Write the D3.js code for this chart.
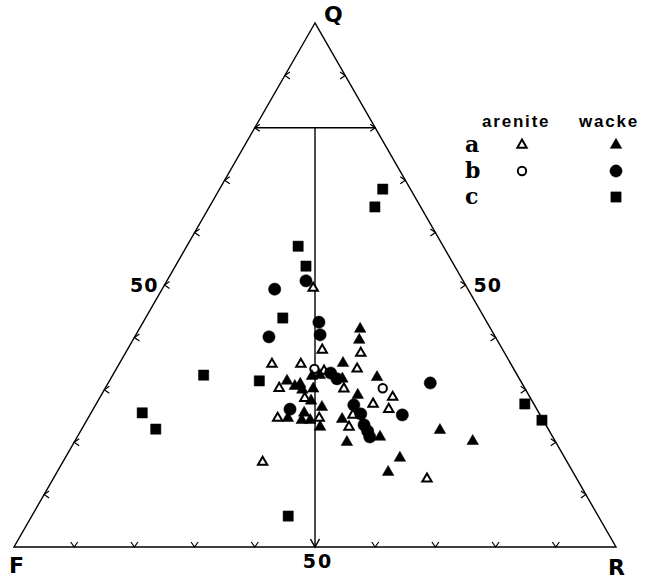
<!DOCTYPE html>
<html>
<head>
<meta charset="utf-8">
<script src="https://cdn.jsdelivr.net/npm/d3@7"></script>
<style>
  body { margin: 0; background: #fff; }
  text { font-family: "DejaVu Sans", sans-serif; font-weight: bold; fill: #000; }
</style>
</head>
<body>
<div id="chart"></div>
<script>
// each point is [Q, F, R] in percent
var areniteA = [[49.4,25.6,25.0],[37.6,30.0,32.4],[37.0,23.9,39.1],[34.9,39.7,25.4],[34.9,34.9,30.2],
  [33.6,31.7,34.7],[34.0,26.0,40.0],[30.3,40.8,28.9],[30.2,30.1,39.7],[28.4,37.5,34.1],
  [28.6,22.8,48.6],[27.3,26.7,46.0],[26.3,24.6,49.1],[24.6,43.9,31.5],[24.6,37.0,38.4],
  [25.2,31.1,43.7],[22.9,32.9,44.2],[16.2,50.6,33.2],[13.0,24.9,62.1]];
var areniteB = [[34.0,33.1,32.9],[30.3,23.6,46.1]];
var wackeA = [[41.6,21.7,36.7],[39.5,22.9,37.6],[35.1,27.8,37.1],[32.1,29.4,38.5],[32.4,23.5,44.1],
  [32.6,34.2,33.2],[32.8,32.8,34.4],[31.7,38.8,29.5],[30.7,38.0,31.3],[31.1,36.9,32.0],
  [30.0,37.1,32.9],[30.2,35.2,34.6],[27.9,36.7,35.4],[29.0,28.4,42.6],[24.6,42.2,33.2],
  [25.6,39.0,35.4],[24.2,40.1,35.7],[24.2,38.7,37.1],[26.7,35.5,37.8],[24.4,33.3,42.3],
  [22.9,37.7,39.4],[21.0,28.7,50.3],[20.0,34.7,45.3],[22.3,18.1,59.6],[20.2,13.7,66.1],
  [17.0,27.4,55.6],[14.3,30.7,55.0]];
var wackeB = [[50.8,26.1,23.1],[49.2,32.1,18.7],[42.9,27.9,29.2],[40.5,28.9,30.6],[40.1,37.6,22.3],
  [33.2,30.8,36.0],[32.1,30.3,37.6],[31.3,15.2,53.5],[26.3,41.0,32.7],[25.2,22.9,51.9],
  [27.1,30.0,42.9],[25.4,29.7,44.9],[23.3,30.2,46.5],[22.1,30.2,47.7],[21.0,30.4,48.6]];
var wackeC = [[68.3,4.6,27.1],[64.9,7.6,27.5],[57.4,24.1,18.5],[53.6,24.7,21.7],[43.7,33.5,22.8],
  [32.8,52.1,15.1],[31.7,43.4,24.9],[25.6,65.9,8.5],[22.5,65.2,12.3],[5.9,51.5,42.6],
  [27.3,1.5,71.2],[24.2,0.2,75.6]];

var ticks = [10, 20, 30, 40, 50, 60, 70, 80, 90];
var quartzLimit = 80;
var rowLabels = ['a', 'b', 'c'];
var colLabels = ['arenite', 'wacke'];

var width = 650, height = 581;

var x = d3.scaleLinear().domain([0, 100]).range([14, 616]);
var y = d3.scaleLinear().domain([0, 100]).range([547, 23]);

// ternary -> screen
function pt(d) { return [x(d[2] + d[0] / 2), y(d[0])]; }

var svg = d3.select('#chart').append('svg')
  .attr('width', width)
  .attr('height', height);

svg.append('rect').attr('width', width).attr('height', height).attr('fill', '#fff');

var line = d3.line();

// frame
svg.append('path')
  .attr('d', line([pt([100,0,0]), pt([0,100,0]), pt([0,0,100])]) + 'Z')
  .attr('fill', 'none').attr('stroke', '#000').attr('stroke-width', 1.4)
  .attr('stroke-linejoin', 'miter');

// Q = 80 line and the F = R divider
svg.append('path')
  .attr('d', line([pt([quartzLimit, 100 - quartzLimit, 0]), pt([quartzLimit, 0, 100 - quartzLimit])]))
  .attr('stroke', '#000').attr('stroke-width', 1.6);
svg.append('path')
  .attr('d', line([pt([quartzLimit, (100 - quartzLimit) / 2, (100 - quartzLimit) / 2]), pt([0, 50, 50])]))
  .attr('stroke', '#000').attr('stroke-width', 1.4);

// arrowhead tick: tip on the edge, arms pointing back inside
function chevron(p, dx, dy, len, half) {
  var bx = p[0] - dx * len, by = p[1] - dy * len;
  var px = -dy * half, py = dx * half;
  return line([[bx + px, by + py], p, [bx - px, by - py]]);
}

var tg = svg.append('g').attr('fill', 'none').attr('stroke', '#000').attr('stroke-width', 1.2);
ticks.forEach(function(v) {
  tg.append('path').attr('d', chevron(pt([v, 100 - v, 0]), -1, 0, 5, 3.5));
  tg.append('path').attr('d', chevron(pt([v, 0, 100 - v]), 1, 0, 5, 3.5));
  if (v === 50) {
    tg.append('path').attr('d', chevron(pt([0, 50, 50]), 0, 1, 8, 4.5)).attr('stroke-width', 1.5);
  } else {
    tg.append('path').attr('d', chevron(pt([0, 100 - v, v]), 0, 1, 5, 3.5));
  }
});

// axis labels
var left50 = pt([50, 50, 0]), right50 = pt([50, 0, 50]), bottom50 = pt([0, 50, 50]);
svg.append('text').attr('x', left50[0] - 6).attr('y', left50[1] + 7)
  .attr('text-anchor', 'end').style('font-size', '19px').style('letter-spacing', '1px').text('50');
svg.append('text').attr('x', right50[0] + 8).attr('y', right50[1] + 7)
  .style('font-size', '19px').style('letter-spacing', '1px').text('50');
svg.append('text').attr('x', bottom50[0] + 3).attr('y', bottom50[1] + 21)
  .attr('text-anchor', 'middle').style('font-size', '19px').style('letter-spacing', '2px').text('50');

svg.append('text').attr('x', 324).attr('y', 22).style('font-size', '22px').text('Q');
svg.append('text').attr('x', 9).attr('y', 573).style('font-size', '22px').text('F');
svg.append('text').attr('x', 608).attr('y', 575).style('font-size', '22px').text('R');

// symbols
var triFilled = d3.symbol().type(d3.symbolTriangle).size(58)();
var triOpen = d3.symbol().type(d3.symbolTriangle).size(38)();
var square = d3.symbol().type(d3.symbolSquare).size(105)();
var dot = d3.symbol().type(d3.symbolCircle).size(118)();
var ring = d3.symbol().type(d3.symbolCircle).size(55)();

function plot(data, path, filled) {
  svg.append('g').selectAll('path').data(data).enter().append('path')
    .attr('d', path)
    .attr('transform', function(d) { var p = pt(d); return 'translate(' + p[0] + ',' + p[1] + ')'; })
    .attr('fill', filled ? '#000' : '#fff')
    .attr('stroke', '#000')
    .attr('stroke-width', filled ? 0.5 : 2);
}

plot(areniteA, triOpen, false);
plot(areniteB, ring, false);
plot(wackeA, triFilled, true);
plot(wackeB, dot, true);
plot(wackeC, square, true);

// legend
var lg = svg.append('g');
var colX = [522, 616], rowY = [145, 171, 197];
var headX = [482, 579];
colLabels.forEach(function(c, i) {
  lg.append('text').attr('x', headX[i]).attr('y', 127)
    .style('font-family', '"Liberation Sans", Arial, sans-serif')
    .style('font-size', '17px').style('letter-spacing', '1.8px').text(c);
});
rowLabels.forEach(function(r, i) {
  lg.append('text').attr('x', 465).attr('y', rowY[i] + 7)
    .style('font-family', '"DejaVu Serif", serif').style('font-size', '22px').text(r);
});
var legendSyms = [
  [0, 0, triOpen, false], [1, 0, triFilled, true],
  [0, 1, ring, false], [1, 1, dot, true],
  [1, 2, square, true]
];
legendSyms.forEach(function(s) {
  lg.append('path').attr('d', s[2])
    .attr('transform', 'translate(' + colX[s[0]] + ',' + rowY[s[1]] + ')')
    .attr('fill', s[3] ? '#000' : '#fff').attr('stroke', '#000')
    .attr('stroke-width', s[3] ? 0.5 : 2);
});
</script>
</body>
</html>
